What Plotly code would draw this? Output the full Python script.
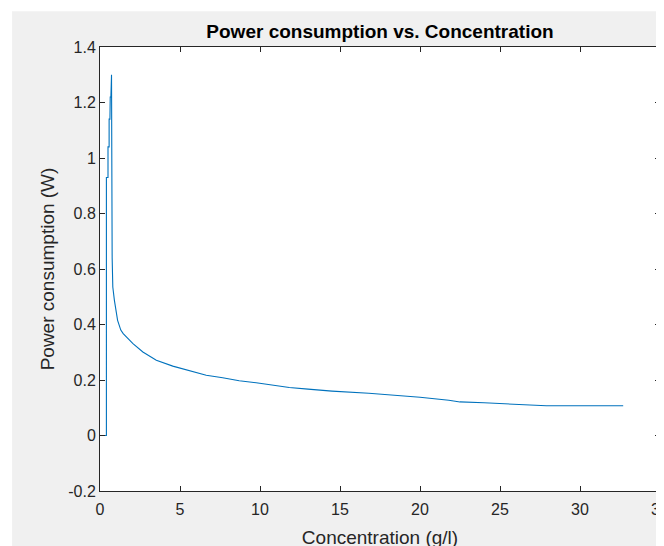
import plotly.graph_objects as go

# Data
concentration = [0.05, 0.4, 0.4, 0.5, 0.5, 0.57, 0.57, 0.62, 0.64, 0.68, 0.72, 0.74, 0.76, 0.8,
                 0.9, 1.1, 1.3, 1.45, 2.06, 2.68, 3.52, 4.55, 5.6, 6.64, 7.67, 8.7, 9.76,
                 10.8, 11.83, 13.0, 14.5, 16.8, 18.5, 20.0, 21.8, 22.5, 24.0, 26.0, 27.9, 32.7]
power = [0.0, 0.0, 0.93, 0.93, 1.04, 1.04, 1.14, 1.14, 1.22, 1.22, 1.30, 0.68, 0.64, 0.535,
         0.487, 0.415, 0.38, 0.367, 0.331, 0.301, 0.271, 0.25, 0.233, 0.217, 0.208, 0.197, 0.19,
         0.181, 0.173, 0.167, 0.16, 0.152, 0.145, 0.138, 0.127, 0.121, 0.118, 0.113, 0.107, 0.107]

x_ticks = [0, 5, 10, 15, 20, 25, 30, 35]
y_ticks = [-0.2, 0, 0.2, 0.4, 0.6, 0.8, 1.0, 1.2, 1.4]
y_tick_labels = ["-0.2", "0", "0.2", "0.4", "0.6", "0.8", "1", "1.2", "1.4"]

FONT = "Liberation Sans, Arial, sans-serif"
AX = "#262626"

fig = go.Figure()
fig.add_trace(go.Scatter(x=concentration, y=power, mode="lines",
                         line=dict(color="#0072BD", width=1.1), showlegend=False))

axis_common = dict(showgrid=False, zeroline=False, showline=True, linecolor=AX, linewidth=1,
                   mirror="ticks", ticks="inside", ticklen=5, tickcolor=AX, tickwidth=1,
                   automargin=False,
                   tickfont=dict(family=FONT, size=16, color=AX))

fig.update_xaxes(range=[0, 35], tickvals=x_ticks, ticklabelstandoff=4,
                 title=dict(text="Concentration (g/l)", font=dict(family=FONT, size=19, color=AX), standoff=13),
                 **axis_common)
fig.update_yaxes(range=[-0.2, 1.4], tickvals=y_ticks, ticktext=y_tick_labels,
                 title=dict(text="Power consumption (W)", font=dict(family=FONT, size=19, color=AX), standoff=8),
                 **axis_common)

fig.update_layout(
    width=664, height=546,
    margin=dict(l=92, r=12, t=39, b=63, pad=0),
    paper_bgcolor="#f0f0f0", plot_bgcolor="white",
    title=dict(text="<b>Power consumption vs. Concentration</b>", x=372 / 664, xanchor="center",
               y=1 - 23 / 546, yanchor="middle", font=dict(family=FONT, size=19, color="black")),
    shapes=[
        dict(type="rect", xref="paper", yref="paper", x0=-0.3, x1=1.2, y0=1.0803, y1=1.3,
             fillcolor="white", line_width=0, layer="above"),
        dict(type="rect", xref="paper", yref="paper", x0=-0.3, x1=-0.157, y0=-0.3, y1=1.3,
             fillcolor="white", line_width=0, layer="above"),
    ],
)

fig.write_html("out.html")
